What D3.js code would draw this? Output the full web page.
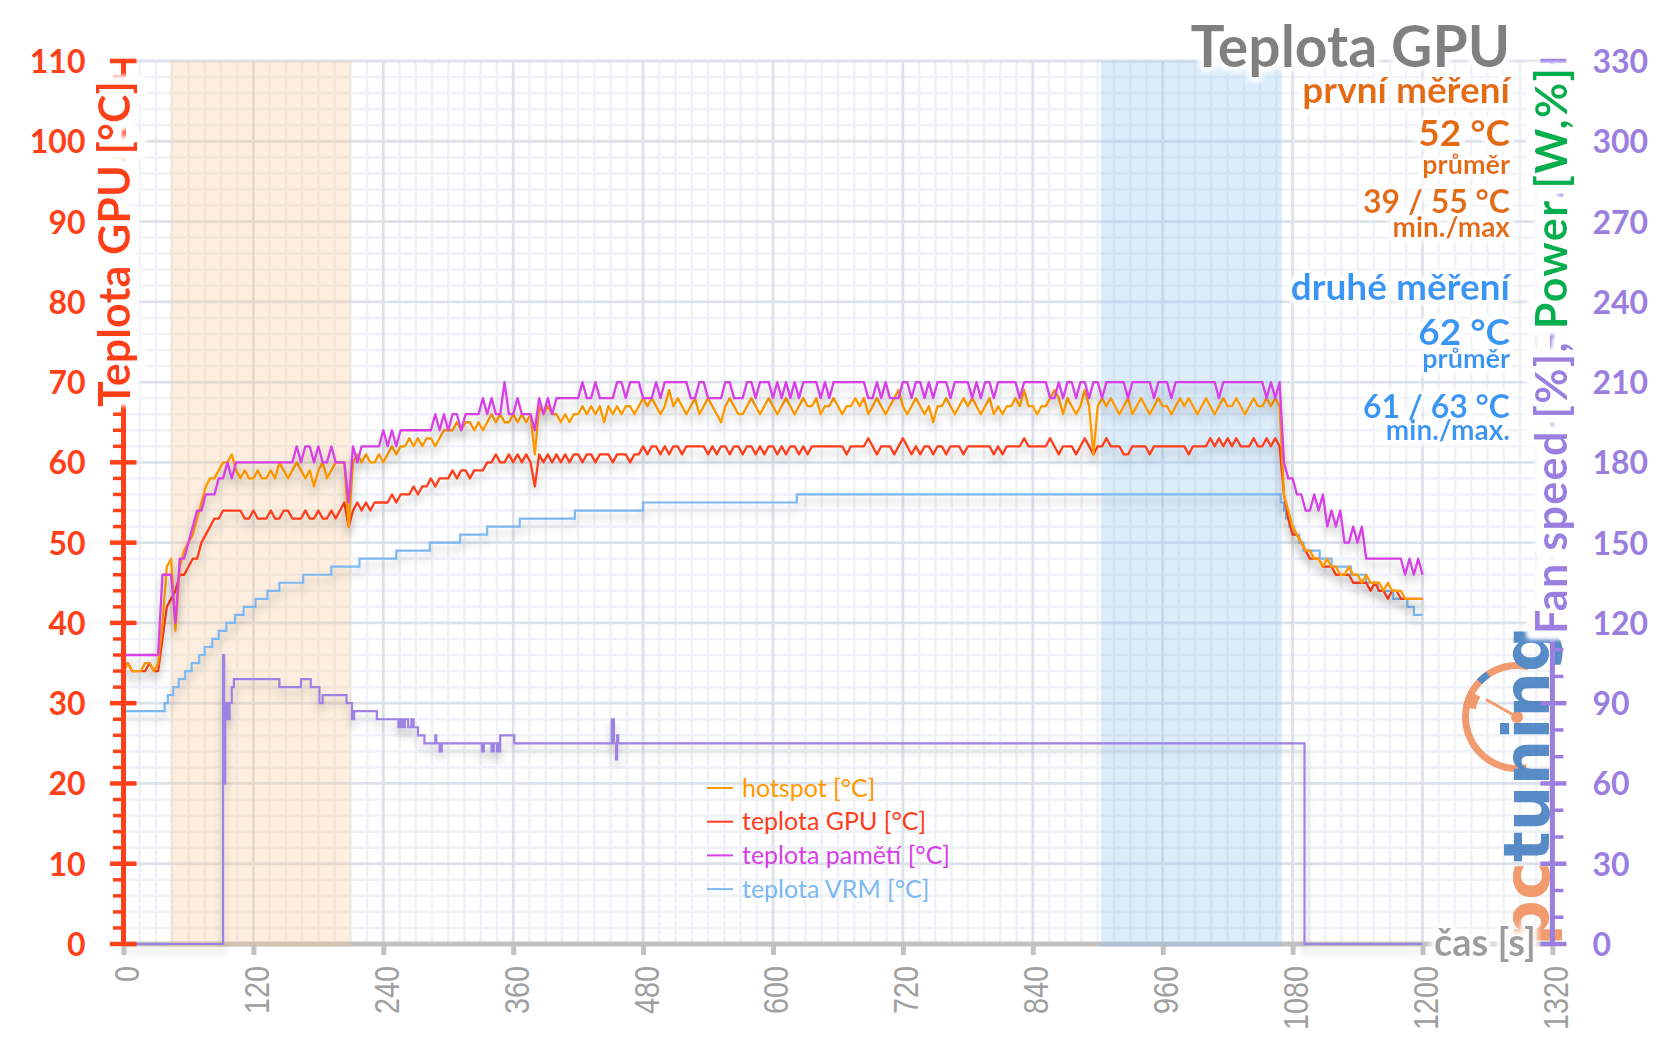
<!DOCTYPE html>
<html><head><meta charset="utf-8">
<script src="https://cdn.jsdelivr.net/npm/d3@7"></script>
<style>
html,body{margin:0;padding:0;background:#fff;}
svg{display:block;font-family:Lato,"Open Sans",sans-serif;}
</style></head><body>
<svg id="chart" width="1656" height="1043"></svg>
<script>
// ---------------- DATA ----------------
const SAMPLE_STEP = 4; // seconds between samples of the temperature series
const hotspot = [
34,35,34,34,34,35,35,34,35,40,47,48,39,47,49,50,51,53,55,57,58,58,59,60,60,
61,59,58,59,58,58,59,58,58,59,58,60,59,58,59,60,59,58,59,57,59,60,58,59,60,
60,60,52,60,61,60,61,60,60,61,60,61,62,61,62,62,63,62,63,62,63,63,62,63,64,
64,64,65,64,65,65,64,65,64,65,66,65,66,65,65,66,65,66,65,66,61,67,66,67,66,
66,65,66,65,66,66,67,66,67,66,67,65,67,66,67,66,67,67,66,67,68,67,68,67,66,
67,69,67,68,67,66,67,68,66,67,68,67,66,65,67,68,67,66,66,67,68,67,66,67,68,
67,66,67,68,67,66,67,68,67,67,68,66,67,67,68,67,66,67,67,68,67,68,66,67,68,
67,66,67,68,69,67,66,67,68,67,66,67,65,67,67,68,67,66,67,68,67,68,67,66,67,
68,66,67,66,67,67,68,67,69,67,67,66,67,67,68,69,68,66,68,67,66,67,69,67,61,
67,68,67,68,67,66,67,68,66,67,68,67,66,67,68,67,67,66,67,68,67,68,67,66,67,
68,67,66,67,68,67,67,68,67,66,67,68,67,67,68,67,68,67,56,54,52,51,50,49,49,
48,48,47,48,47,47,46,46,47,46,46,45,46,45,45,45,44,45,44,44,44,43,43,43,43,
43];
const gpuTemp = [
34,35,34,34,34,34,35,34,34,38,42,43,44,46,46,47,48,48,50,51,52,53,53,54,54,
54,54,54,53,53,54,53,53,53,54,53,53,54,54,53,53,53,54,53,53,54,53,53,54,53,
54,55,52,54,55,54,55,54,55,55,55,55,56,55,56,56,56,57,56,57,57,58,57,58,58,
58,59,58,59,59,58,59,59,59,60,60,61,60,60,61,60,61,60,61,60,57,61,60,61,60,
61,60,61,60,61,61,60,61,61,60,61,61,61,60,61,61,61,60,61,61,62,61,62,62,61,
62,61,62,62,61,62,62,62,62,62,61,62,61,62,62,61,62,62,61,62,62,61,62,61,62,
62,61,62,61,62,62,61,62,61,62,62,62,62,62,62,62,62,61,62,62,62,62,63,62,61,
62,62,62,61,62,63,62,61,62,61,62,62,61,62,62,61,62,62,62,61,62,62,62,62,62,
62,61,62,61,62,62,62,62,63,62,62,62,62,62,63,62,61,62,62,62,61,62,63,62,61,
62,62,63,62,62,62,61,61,62,62,62,62,61,62,62,62,62,62,62,62,62,61,62,62,62,
62,63,62,63,62,63,62,63,62,62,62,63,62,62,63,62,63,62,56,53,51,51,50,49,48,
48,48,47,47,47,46,46,46,46,45,45,45,45,44,45,44,44,43,44,44,43,43,43,43,43,
43];
const memTemp = [
36,36,36,36,36,36,36,36,36,46,46,46,40,48,48,50,52,54,54,56,56,56,58,58,60,
58,60,60,60,60,60,60,60,60,60,60,60,60,60,60,62,60,62,62,60,62,60,60,62,60,
60,60,55,62,60,62,62,62,62,62,64,62,64,62,64,64,64,64,64,64,64,64,66,64,66,
64,66,66,64,66,66,66,66,68,66,68,66,66,70,66,66,68,66,66,66,64,68,66,68,66,
68,68,68,68,68,68,70,68,68,70,68,68,68,68,70,70,68,70,70,70,68,68,68,70,68,
70,70,70,70,70,70,68,68,70,70,68,68,68,68,70,70,68,68,68,70,70,68,70,70,70,
68,70,68,70,68,70,68,70,70,70,70,68,70,68,70,70,70,70,70,70,70,70,68,68,70,
68,70,68,68,68,70,70,68,70,70,68,70,68,70,70,70,68,70,70,70,70,68,70,68,70,
70,68,70,70,70,70,70,68,70,70,70,70,70,70,68,68,70,68,70,70,68,70,70,68,70,
70,68,70,70,70,70,70,68,70,70,70,70,70,68,70,70,70,68,70,70,70,70,70,70,70,
70,70,70,68,70,70,70,70,70,70,70,70,70,70,68,70,68,70,60,58,58,56,56,54,54,
56,54,56,52,54,52,54,50,50,52,50,52,48,48,48,48,48,48,48,48,48,46,48,46,48,
46];
// [time s, value] change points (step series)
const vrmTemp = [[0,29],[38,30],[41,31],[46,32],[51,33],[57,34],[63,35],[70,36],[75,37],[82,38],[88,39],[95,40],[103,41],[111,42],[122,43],[133,44],[144,45],[166,46],[192,47],[218,48],[252,49],[283,50],[311,51],[336,52],[366,53],[417,54],[480,55],[622,56],[1069,55],[1072,54],[1074,53],[1077,52],[1081,51],[1086,50],[1090,49],[1105,48],[1116,47],[1134,46],[1148,45],[1159,44],[1173,43],[1186,42],[1192,41],[1200,41]];
// fan speed / power, right axis units
const fanSpeed = [[0,0],[92,108],[93,60],[94,90],[96,84],[98,90],[100,96],[102,99],[144,96],[164,99],[173,96],[181,90],[184,93],[206,90],[211,84],[213,87],[234,84],[254,81],[256,84],[258,81],[260,84],[263,81],[266,84],[268,81],[272,78],[278,75],[288,78],[289,75],[292,72],[294,75],[331,72],[333,75],[340,72],[342,75],[345,72],[346,75],[347,72],[348,78],[361,75],[451,84],[453,75],[455,69],[456,78],[457,75],[1091,0],[1200,0]];
const bands = [[43,210],[903,1070]];
const xTicks = [0,120,240,360,480,600,720,840,960,1080,1200,1320];
const yTicksLeft = [0,10,20,30,40,50,60,70,80,90,100,110];
const yTicksRight = [0,30,60,90,120,150,180,210,240,270,300,330];
const legendLabels = ["hotspot [°C]","teplota GPU [°C]","teplota pamětí [°C]","teplota VRM [°C]"];
const titleText = "Teplota GPU";
const firstStats = ["první měření","52 °C","průměr","39 / 55 °C","min./max"];
const secondStats = ["druhé měření","62 °C","průměr","61 / 63 °C","min./max."];

// ---------------- STYLE ----------------
const C = {hot:"#ff9900", gpu:"#ff3d1a", mem:"#d63fe6", vrm:"#7cb8f2", fan:"#9c82e2",
  left:"#ff4019", right:"#9a7fe0", green:"#00b050", gray:"#9c9c9c", orangeTxt:"#e46c0a", blueTxt:"#3797f5"};

const svg = d3.select("#chart");
const x = d3.scaleLinear().domain([0,1320]).range([123.5,1552.4]);
const y = d3.scaleLinear().domain([0,110]).range([944,61]);
const yR = d3.scaleLinear().domain([0,330]).range([944,61]);

const defs = svg.append("defs");
defs.html(`
<filter id="shadow" filterUnits="userSpaceOnUse" x="0" y="0" width="1656" height="1043">
  <feGaussianBlur in="SourceAlpha" stdDeviation="4"/>
  <feOffset dx="0" dy="7" result="b"/>
  <feFlood flood-color="#000" flood-opacity="0.22"/>
  <feComposite in2="b" operator="in"/>
  <feMerge><feMergeNode/><feMergeNode in="SourceGraphic"/></feMerge>
</filter>
<filter id="glow" x="-20%" y="-60%" width="140%" height="220%">
  <feMorphology in="SourceAlpha" operator="dilate" radius="3" result="d"/>
  <feGaussianBlur in="d" stdDeviation="3" result="g"/>
  <feFlood flood-color="#fff"/>
  <feComposite in2="g" operator="in" result="w"/>
  <feMerge><feMergeNode in="w"/><feMergeNode in="w"/><feMergeNode in="SourceGraphic"/></feMerge>
</filter>
<filter id="glowStrong" x="-10%" y="-60%" width="120%" height="220%">
  <feMorphology in="SourceAlpha" operator="dilate" radius="7" result="d"/>
  <feGaussianBlur in="d" stdDeviation="2.5" result="g"/>
  <feFlood flood-color="#fff"/>
  <feComposite in2="g" operator="in" result="w"/>
  <feMerge><feMergeNode in="w"/><feMergeNode in="w"/><feMergeNode in="w"/><feMergeNode in="SourceGraphic"/></feMerge>
</filter>`);

svg.append("rect").attr("width",1656).attr("height",1043).attr("fill","#fff");

// ---------------- GRID ----------------
const grid = svg.append("g");
const yMinor = d3.range(0,110.01,2).filter(v=>v%10!==0);
const xMinor = d3.range(0,1320.01,15).filter(v=>v%120!==0);
grid.selectAll(".hm").data(yMinor).join("line")
  .attr("x1",x(0)).attr("x2",x(1320)).attr("y1",d=>y(d)).attr("y2",d=>y(d))
  .attr("stroke","#eff2f6").attr("stroke-width",2.6);
grid.selectAll(".vm").data(xMinor).join("line")
  .attr("x1",d=>x(d)).attr("x2",d=>x(d)).attr("y1",y(110)).attr("y2",y(0))
  .attr("stroke","#eff2f6").attr("stroke-width",2.6);
grid.selectAll(".hM").data(yTicksLeft).join("line")
  .attr("x1",x(0)).attr("x2",x(1320)).attr("y1",d=>y(d)).attr("y2",d=>y(d))
  .attr("stroke","#dde2ea").attr("stroke-width",2.8);
grid.selectAll(".vM").data(xTicks).join("line")
  .attr("x1",d=>x(d)).attr("x2",d=>x(d)).attr("y1",y(110)).attr("y2",y(0))
  .attr("stroke","#dde2ea").attr("stroke-width",2.8);

// x axis line
svg.append("line").attr("x1",x(0)).attr("x2",x(1320)).attr("y1",y(0)).attr("y2",y(0))
  .attr("stroke","#c2c2c2").attr("stroke-width",5);

// bands
const bandColors = ["rgb(250,200,150)","rgb(142,192,242)"];
svg.append("g").selectAll("rect").data(bands).join("rect")
  .attr("x",d=>x(d[0])).attr("width",d=>x(d[1])-x(d[0]))
  .attr("y",y(110)).attr("height",y(0)-y(110)+3)
  .attr("fill",(d,i)=>bandColors[i]).attr("opacity",0.3);

// ---------------- SERIES ----------------
const series = svg.append("g");
const lineT = d3.line().x((d,i)=>x(i*SAMPLE_STEP)).y(d=>y(d));
const lineStep = d3.line().x(d=>x(d[0])).y(d=>y(d[1])).curve(d3.curveStepAfter);
const lineFan = d3.line().x(d=>x(d[0])).y(d=>yR(d[1])).curve(d3.curveStepAfter);
series.append("path").attr("d",lineFan(fanSpeed)).attr("fill","none").attr("stroke",C.fan).attr("stroke-width",2.2).attr("filter","url(#shadow)");
series.append("path").attr("d",lineStep(vrmTemp)).attr("fill","none").attr("stroke",C.vrm).attr("stroke-width",2.2).attr("filter","url(#shadow)");
series.append("path").attr("d",lineT(gpuTemp)).attr("fill","none").attr("stroke",C.gpu).attr("stroke-width",2.3).attr("stroke-linejoin","round").attr("filter","url(#shadow)");
series.append("path").attr("d",lineT(hotspot)).attr("fill","none").attr("stroke",C.hot).attr("stroke-width",2.3).attr("stroke-linejoin","round").attr("filter","url(#shadow)");
series.append("path").attr("d",lineT(memTemp)).attr("fill","none").attr("stroke",C.mem).attr("stroke-width",2.3).attr("stroke-linejoin","round").attr("filter","url(#shadow)");

// ---------------- X AXIS ----------------
const gx = svg.append("g").attr("transform",`translate(0,${y(0)})`);
gx.call(d3.axisBottom(x).tickValues(xTicks).tickSize(0).tickFormat(d3.format("d")));
gx.select(".domain").remove();
gx.selectAll(".tick").append("line").attr("x1",0).attr("x2",0).attr("y1",2).attr("y2",11)
  .attr("stroke","#c2c2c2").attr("stroke-width",5);
gx.selectAll(".tick text")
  .attr("x",0).attr("y",0).attr("dy","0.36em")
  .attr("transform","translate(2,22) rotate(-90) scale(0.8,1)")
  .attr("text-anchor","end").attr("font-family","'Liberation Sans',Arial,sans-serif")
  .attr("font-size",36).attr("fill","#a0a0a0");

// ---------------- LOGO ----------------
const logo = svg.append("g").attr("opacity",0.85);
const gc = [1517,717];
const arcGen = d3.arc();
logo.append("path").attr("transform",`translate(${gc})`)
  .attr("d",arcGen({innerRadius:48,outerRadius:55,startAngle:-Math.PI*1.06,endAngle:Math.PI*0.07}))
  .attr("fill","#f08a55");
logo.append("path").attr("transform",`translate(${gc})`)
  .attr("d",arcGen({innerRadius:42,outerRadius:55,startAngle:-Math.PI*0.44,endAngle:-Math.PI*0.34}))
  .attr("fill","#f08a55");
logo.append("path").attr("transform",`translate(${gc})`)
  .attr("d",arcGen({innerRadius:48,outerRadius:55,startAngle:-Math.PI*0.26,endAngle:-Math.PI*0.19}))
  .attr("fill","#3c78be");
logo.append("line").attr("x1",gc[0]).attr("y1",gc[1]).attr("x2",gc[0]-30).attr("y2",gc[1]-17)
  .attr("stroke","#f08a55").attr("stroke-width",3).attr("stroke-linecap","round");
logo.append("circle").attr("cx",gc[0]).attr("cy",gc[1]).attr("r",6).attr("fill","#f08a55");
const lt = logo.append("text").attr("transform","translate(1549,946) rotate(-90)")
  .attr("font-family","'DejaVu Sans',sans-serif").attr("font-weight",700).attr("font-size",64)
  .attr("textLength",320).attr("lengthAdjust","spacingAndGlyphs");
lt.append("tspan").attr("fill","#f08a55").text("pc");
lt.append("tspan").attr("fill","#3c78be").text("tuning");

// ---------------- LEFT AXIS ----------------
const gl = svg.append("g").attr("transform",`translate(${x(0)},0)`);
gl.call(d3.axisLeft(y).tickValues(yTicksLeft).tickSize(0).tickPadding(38).tickFormat(d3.format("d")));
gl.select(".domain").remove();
gl.selectAll(".tick text").attr("font-family","Lato,sans-serif").attr("font-weight",700)
  .attr("font-size",32).attr("fill",C.left).attr("dy","0.36em");
const yMinorTicks = d3.range(0,110.01,2).filter(v=>v%10!==0);
gl.selectAll(".mt").data(yMinorTicks).join("line")
  .attr("x1",-10.5).attr("x2",0).attr("y1",d=>y(d)).attr("y2",d=>y(d))
  .attr("stroke",C.left).attr("stroke-width",3.5);
gl.selectAll(".Mt").data(yTicksLeft).join("line")
  .attr("x1",-13.5).attr("x2",13).attr("y1",d=>y(d)).attr("y2",d=>y(d))
  .attr("stroke",C.left).attr("stroke-width",4.5);
gl.append("line").attr("x1",0).attr("x2",0).attr("y1",y(110)-1).attr("y2",y(0)+2)
  .attr("stroke",C.left).attr("stroke-width",5);
// axis title with glow, on top of the axis
svg.append("text").attr("transform",`translate(130,407) rotate(-90)`)
  .attr("font-size",43).attr("font-weight",700).attr("fill",C.left).attr("filter","url(#glowStrong)")
  .attr("textLength",326).attr("lengthAdjust","spacing")
  .text("Teplota GPU [°C]");

// ---------------- RIGHT AXIS ----------------
const gr = svg.append("g").attr("transform",`translate(${x(1320)},0)`);
gr.call(d3.axisRight(yR).tickValues(yTicksRight).tickSize(0).tickPadding(40).tickFormat(d3.format("d")));
gr.select(".domain").remove();
gr.selectAll(".tick text").attr("font-family","Lato,sans-serif").attr("font-weight",700)
  .attr("font-size",32).attr("fill",C.right).attr("dy","0.36em");
const rMinor = d3.range(0,330.01,10).filter(v=>v%30!==0);
gr.selectAll(".mt").data(rMinor).join("line")
  .attr("x1",0).attr("x2",11).attr("y1",d=>yR(d)).attr("y2",d=>yR(d))
  .attr("stroke",C.right).attr("stroke-width",3.5);
gr.selectAll(".Mt").data(yTicksRight).join("line")
  .attr("x1",-12).attr("x2",14).attr("y1",d=>yR(d)).attr("y2",d=>yR(d))
  .attr("stroke",C.right).attr("stroke-width",4.5);
gr.append("line").attr("x1",0).attr("x2",0).attr("y1",yR(330)-1).attr("y2",yR(0)+2)
  .attr("stroke",C.right).attr("stroke-width",5);
const rt = svg.append("text").attr("transform",`translate(1567,634) rotate(-90)`)
  .attr("font-size",43).attr("font-weight",700).attr("filter","url(#glowStrong)")
  .attr("textLength",566).attr("lengthAdjust","spacing");
rt.append("tspan").attr("fill",C.right).text("Fan speed [%], ");
rt.append("tspan").attr("fill",C.green).text("Power [W,%]");

// x axis title
svg.append("text").attr("x",1434).attr("y",956).attr("font-size",38).attr("font-weight",700)
  .attr("fill",C.gray).attr("filter","url(#glow)").text("čas [s]");

// ---------------- TITLE & STATS ----------------
svg.append("text").attr("x",1510).attr("y",67).attr("text-anchor","end")
  .attr("font-size",57).attr("font-weight",700).attr("fill","#808080").attr("filter","url(#glow)")
  .text(titleText);
const statLayout = [{y:103,s:37},{y:146,s:37},{y:174,s:27},{y:213,s:32},{y:237,s:28}];
const statLayout2 = [{y:300,s:37},{y:345,s:37},{y:368,s:27},{y:418,s:32},{y:440,s:28}];
const stats = svg.append("g").attr("text-anchor","end").attr("font-weight",700).attr("filter","url(#glow)");
firstStats.forEach((t,i)=>stats.append("text").attr("x",1510).attr("y",statLayout[i].y)
  .attr("font-size",statLayout[i].s).attr("fill",C.orangeTxt).text(t));
secondStats.forEach((t,i)=>stats.append("text").attr("x",1510).attr("y",statLayout2[i].y)
  .attr("font-size",statLayout2[i].s).attr("fill",C.blueTxt).text(t));

// ---------------- LEGEND ----------------
const legColors = [C.hot,C.gpu,C.mem,C.vrm];
const leg = svg.append("g");
legendLabels.forEach((t,i)=>{
  const yy = 788 + i*33.7;
  leg.append("line").attr("x1",707).attr("x2",733).attr("y1",yy).attr("y2",yy)
    .attr("stroke",legColors[i]).attr("stroke-width",2);
  leg.append("text").attr("x",742).attr("y",yy).attr("dy","0.35em")
    .attr("font-size",25).attr("fill",legColors[i]).text(t);
});
</script>
</body></html>
